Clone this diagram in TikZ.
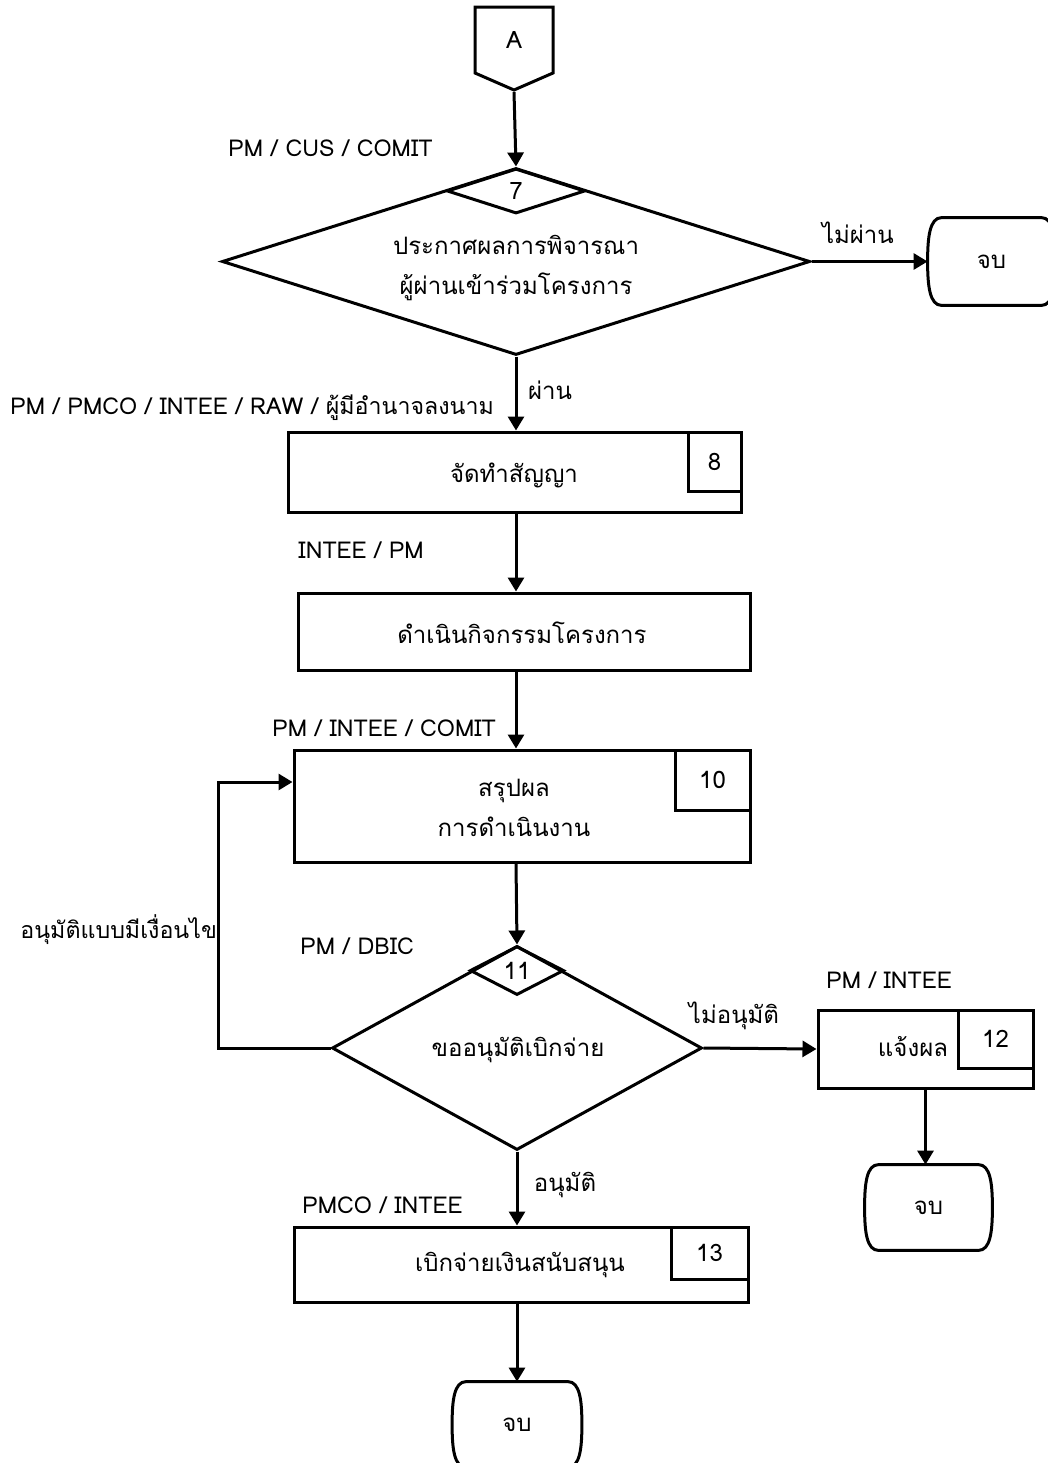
\documentclass[tikz,border=0pt]{standalone}
\usepackage{fontspec}
\setmainfont[Script=Thai]{Loma}
\usetikzlibrary{shapes.geometric,arrows.meta}
\begin{document}
\begin{tikzpicture}[x=0.5pt,y=-0.5pt,
  lw/.style={line width=1.5pt},
  arr/.style={lw,-{Triangle[length=7pt,width=8pt]}},
  box/.style={draw,lw,rectangle,inner sep=0pt},
  numbox/.style={draw,lw,rectangle,inner sep=0pt,anchor=north east,font=\fs},
  dia/.style={draw,lw,diamond,inner sep=0pt},
  term/.style={rectangle,inner sep=0pt,font=\fs},
  txt/.style={inner sep=0pt,font=\fs,align=center},
  lab/.style={inner sep=0pt,font=\ls,anchor=west},
]
\newcommand{\fs}{\fontsize{12}{20}\selectfont}
\newcommand{\ls}{\fontsize{11.6}{20}\selectfont}
\newcommand{\tshape}[1]{%
  \draw[lw] ([xshift=7pt]#1.north west) -- ([xshift=-7pt]#1.north east)
    .. controls ([xshift=-1pt]#1.north east) and ([yshift=12pt]#1.east) .. (#1.east)
    .. controls ([yshift=-12pt]#1.east) and ([xshift=-1pt]#1.south east) .. ([xshift=-7pt]#1.south east)
    -- ([xshift=7pt]#1.south west)
    .. controls ([xshift=1pt]#1.south west) and ([yshift=-12pt]#1.west) .. (#1.west)
    .. controls ([yshift=12pt]#1.west) and ([xshift=1pt]#1.north west) .. cycle;}
\useasboundingbox (0,0) rectangle (1048,1463);

% off-page connector A
\draw[lw] (475,7) -- (553,7) -- (553,73) -- (514,90) -- (475,73) -- cycle;
\node[txt] (A) at (514,40) {A};
\coordinate (Atip) at (514,92);

% decision 7
\node[dia,minimum width=294pt,minimum height=93.5pt] (d7) at (516,261.5) {};
\node[dia,minimum width=69pt,minimum height=22.5pt,font=\fs] (d7n) at (516,191) {7};
\node[txt] (d7t) at (516,268) {ประกาศผลการพิจารณา\\ผู้ผ่านเข้าร่วมโครงการ};
\node[lab] (l7) at (228,148) {PM / CUS / COMIT};
\node[term,minimum width=63.5pt,minimum height=43.5pt] (end1) at (991.5,261.5) {จบ};
\tshape{end1}
\draw[arr] (Atip) -- (d7.north);
\draw[arr] (d7.east) -- (end1.west) node[txt,pos=0.4,above=8pt] (lno1) {ไม่ผ่าน};

% box 8
\node[box,minimum width=226.5pt,minimum height=40pt] (b8) at (514.5,472) {};
\node[numbox,minimum width=26.5pt,minimum height=29.5pt] (n8) at (b8.north east) {8};
\node[txt] (b8t) at (514,475) {จัดทำสัญญา};
\node[lab] (l8) at (10,408) {PM / PMCO / INTEE / RAW / ผู้มีอำนาจลงนาม};
\draw[arr] (d7.south) -- (d7.south |- b8.north);
\node[txt] (lyes1) at (550,390) {ผ่าน};

% box 9
\node[box,minimum width=226pt,minimum height=38.5pt] (b9) at (524,631.5) {};
\node[txt] (b9t) at (522,633) {ดำเนินกิจกรรมโครงการ};
\node[lab] (l9) at (298,550) {INTEE / PM};
\draw[arr] (d7.south |- b8.south) -- (d7.south |- b9.north);

% box 10
\node[box,minimum width=228pt,minimum height=56pt] (b10) at (522,806) {};
\node[numbox,minimum width=37.5pt,minimum height=30pt] (n10) at (b10.north east) {10};
\node[txt] (b10t) at (514,808) {สรุปผล\\การดำเนินงาน};
\node[lab] (l10) at (272,728) {PM / INTEE / COMIT};
\draw[arr] (d7.south |- b9.south) -- (d7.south |- b10.north);

% decision 11
\node[dia,minimum width=185pt,minimum height=102pt] (d11) at (517,1048) {};
\node[dia,minimum width=47pt,minimum height=24.5pt,font=\fs] (d11n) at (517,970.5) {11};
\node[txt] (d11t) at (518,1050) {ขออนุมัติเบิกจ่าย};
\node[lab] (l11) at (300,946) {PM / DBIC};
\draw[arr] (d7.south |- b10.south) -- (d11.north);
\coordinate (loopc) at (218,1048);
\draw[arr] (d11.west) -- (loopc) |- ([yshift=12pt]b10.west);
\node[lab] (lcond) at (20,930) {อนุมัติแบบมีเงื่อนไข};

% box 12
\node[box,minimum width=107.5pt,minimum height=39pt] (b12) at (925.5,1049) {};
\node[numbox,minimum width=37.5pt,minimum height=29pt] (n12) at (b12.north east) {12};
\node[txt] (b12t) at (913,1047) {แจ้งผล};
\node[lab] (l12) at (826,980) {PM / INTEE};
\draw[arr] (d11.east) -- (b12.west);
\node[txt] (lno2) at (734,1016) {ไม่อนุมัติ};
\node[term,minimum width=63.5pt,minimum height=42.5pt] (end2) at (928.5,1207.5) {จบ};
\tshape{end2}
\draw[arr] (b12.south) -- (b12.south |- end2.north);

% box 13
\node[box,minimum width=227pt,minimum height=37.5pt] (b13) at (521,1264.5) {};
\node[numbox,minimum width=38.5pt,minimum height=26pt] (n13) at (b13.north east) {13};
\node[txt] (b13t) at (520,1265) {เบิกจ่ายเงินสนับสนุน};
\node[lab] (l13) at (302,1205) {PMCO / INTEE};
\draw[arr] (d11.south) -- (d11.south |- b13.north);
\node[txt] (lyes2) at (565,1185) {อนุมัติ};
\node[term,minimum width=64.5pt,minimum height=42.5pt] (end3) at (517,1424.5) {จบ};
\tshape{end3}
\draw[arr] (d11.south |- b13.south) -- (end3.north);
\end{tikzpicture}
\end{document}
